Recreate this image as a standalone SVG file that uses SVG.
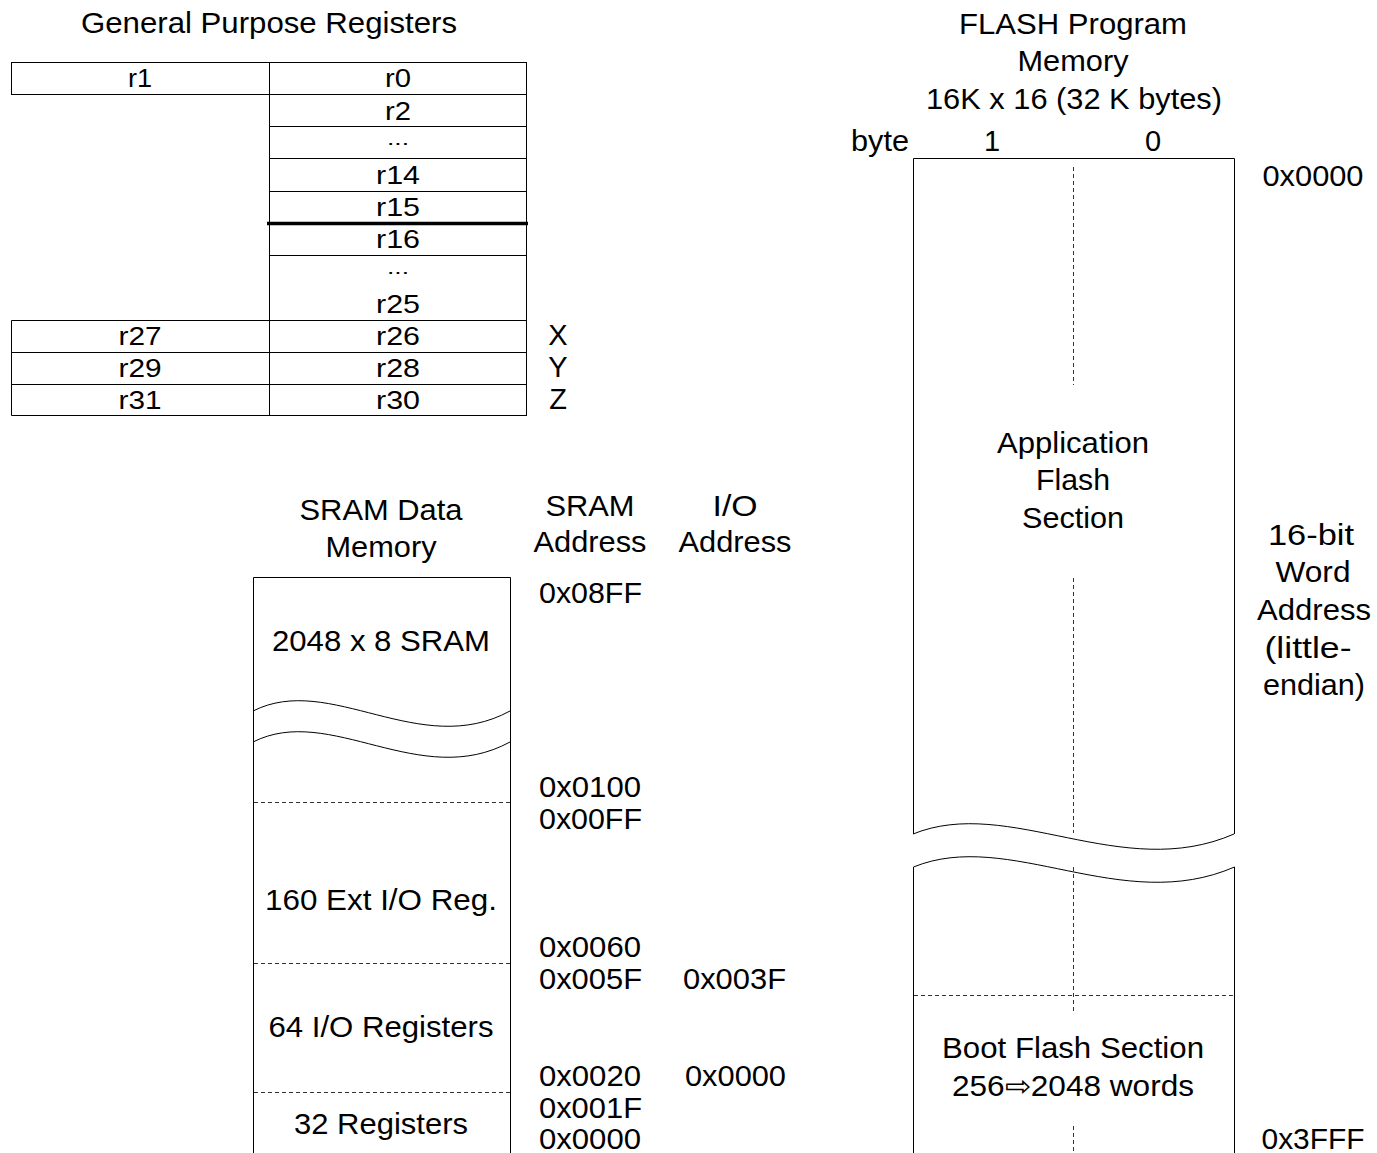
<svg xmlns="http://www.w3.org/2000/svg" width="1377" height="1153" viewBox="0 0 1377 1153">
<style>
text{font-family:"Liberation Sans",Arial,sans-serif;font-size:29px;fill:#000}
.c{text-anchor:middle}
.r{font-size:26px;text-anchor:middle}
.d{font-size:19px;text-anchor:middle}
.box{fill:none;stroke:#000;stroke-width:1}
.ln{stroke:#000;stroke-width:1;fill:none}
.dash{stroke:#333;stroke-width:1;stroke-dasharray:4,3;fill:none}
</style>
<rect width="1377" height="1153" fill="#fff"/>

<g id="registers">
  <text class="c" x="269" y="33" textLength="376" lengthAdjust="spacingAndGlyphs">General Purpose Registers</text>
  <rect class="box" x="11.5" y="62.5" width="258" height="32"/>
  <rect class="box" x="269.5" y="62.5" width="257" height="353"/>
  <path class="ln" d="M269.5,94.5H526.5M269.5,126.5H526.5M269.5,158.5H526.5M269.5,191.5H526.5M269.5,255.5H526.5M11.5,320.5H526.5M11.5,352.5H526.5M11.5,384.5H526.5M11.5,320.5V415.5H269.5"/>
  <line x1="267" y1="223.5" x2="528" y2="223.5" stroke="#000" stroke-width="3.5"/>
  <text class="r" x="140" y="87" textLength="24" lengthAdjust="spacingAndGlyphs">r1</text>
  <text class="r" x="398" y="87" textLength="26" lengthAdjust="spacingAndGlyphs">r0</text>
  <text class="r" x="398" y="120" textLength="26" lengthAdjust="spacingAndGlyphs">r2</text>
  <text class="d" x="398" y="145" textLength="22" lengthAdjust="spacingAndGlyphs">...</text>
  <text class="r" x="398" y="184" textLength="44" lengthAdjust="spacingAndGlyphs">r14</text>
  <text class="r" x="398" y="216" textLength="44" lengthAdjust="spacingAndGlyphs">r15</text>
  <text class="r" x="398" y="248" textLength="44" lengthAdjust="spacingAndGlyphs">r16</text>
  <text class="d" x="398" y="274" textLength="22" lengthAdjust="spacingAndGlyphs">...</text>
  <text class="r" x="398" y="313" textLength="44" lengthAdjust="spacingAndGlyphs">r25</text>
  <text class="r" x="140" y="345" textLength="43" lengthAdjust="spacingAndGlyphs">r27</text>
  <text class="r" x="398" y="345" textLength="44" lengthAdjust="spacingAndGlyphs">r26</text>
  <text class="r" x="140" y="377" textLength="43" lengthAdjust="spacingAndGlyphs">r29</text>
  <text class="r" x="398" y="377" textLength="44" lengthAdjust="spacingAndGlyphs">r28</text>
  <text class="r" x="140" y="409" textLength="43" lengthAdjust="spacingAndGlyphs">r31</text>
  <text class="r" x="398" y="409" textLength="44" lengthAdjust="spacingAndGlyphs">r30</text>
  <text class="c" x="558" y="345">X</text>
  <text class="c" x="558" y="377">Y</text>
  <text class="c" x="558" y="409">Z</text>
</g>

<g id="sram">
  <text class="c" x="381" y="520" textLength="163" lengthAdjust="spacingAndGlyphs">SRAM Data</text>
  <text class="c" x="381" y="557" textLength="111" lengthAdjust="spacingAndGlyphs">Memory</text>
  <text class="c" x="590" y="516" textLength="89" lengthAdjust="spacingAndGlyphs">SRAM</text>
  <text class="c" x="590" y="552" textLength="113" lengthAdjust="spacingAndGlyphs">Address</text>
  <text class="c" x="735" y="516" textLength="45" lengthAdjust="spacingAndGlyphs">I/O</text>
  <text class="c" x="735" y="552" textLength="113" lengthAdjust="spacingAndGlyphs">Address</text>
  <path class="ln" d="M253.5,1153V577.5H510.5V1153"/>
  <path class="ln" d="M253,711 C330,672 420,760 510,711"/>
  <path class="ln" d="M253,742 C330,703 420,791 510,742"/>
  <path class="dash" d="M254,802.5H510M254,963.5H510M254,1092.5H510"/>
  <text class="c" x="381" y="651" textLength="218" lengthAdjust="spacingAndGlyphs">2048 x 8 SRAM</text>
  <text class="c" x="381" y="910" textLength="232" lengthAdjust="spacingAndGlyphs">160 Ext I/O Reg.</text>
  <text class="c" x="381" y="1037" textLength="225" lengthAdjust="spacingAndGlyphs">64 I/O Registers</text>
  <text class="c" x="381" y="1134" textLength="174" lengthAdjust="spacingAndGlyphs">32 Registers</text>
  <text x="539" y="603" textLength="103" lengthAdjust="spacingAndGlyphs">0x08FF</text>
  <text x="539" y="797" textLength="102" lengthAdjust="spacingAndGlyphs">0x0100</text>
  <text x="539" y="829" textLength="103" lengthAdjust="spacingAndGlyphs">0x00FF</text>
  <text x="539" y="957" textLength="102" lengthAdjust="spacingAndGlyphs">0x0060</text>
  <text x="539" y="989" textLength="103" lengthAdjust="spacingAndGlyphs">0x005F</text>
  <text x="539" y="1086" textLength="102" lengthAdjust="spacingAndGlyphs">0x0020</text>
  <text x="539" y="1118" textLength="103" lengthAdjust="spacingAndGlyphs">0x001F</text>
  <text x="539" y="1149" textLength="102" lengthAdjust="spacingAndGlyphs">0x0000</text>
  <text x="683" y="989" textLength="103" lengthAdjust="spacingAndGlyphs">0x003F</text>
  <text x="685" y="1086" textLength="101" lengthAdjust="spacingAndGlyphs">0x0000</text>
</g>

<g id="flash">
  <text class="c" x="1073" y="34" textLength="228" lengthAdjust="spacingAndGlyphs">FLASH Program</text>
  <text class="c" x="1073" y="71" textLength="111" lengthAdjust="spacingAndGlyphs">Memory</text>
  <text class="c" x="1074" y="109" textLength="296" lengthAdjust="spacingAndGlyphs">16K x 16 (32 K bytes)</text>
  <text class="c" x="880" y="151" textLength="58" lengthAdjust="spacingAndGlyphs">byte</text>
  <text class="c" x="992" y="151">1</text>
  <text class="c" x="1153" y="151">0</text>
  <path class="ln" d="M913.5,834V158.5H1234.5V834"/>
  <path class="ln" d="M913,834 C1009,795 1122,883 1234,834"/>
  <path class="ln" d="M913.5,1153V867 C1009,828 1122,916 1234.5,867V1153"/>
  <path class="dash" d="M1073.5,167V385M1073.5,578V833M1073.5,867V1012M1073.5,1126V1153M914,995.5H1234"/>
  <text class="c" x="1073" y="453" textLength="152" lengthAdjust="spacingAndGlyphs">Application</text>
  <text class="c" x="1073" y="490" textLength="74" lengthAdjust="spacingAndGlyphs">Flash</text>
  <text class="c" x="1073" y="528" textLength="102" lengthAdjust="spacingAndGlyphs">Section</text>
  <text class="c" x="1073" y="1058" textLength="262" lengthAdjust="spacingAndGlyphs">Boot Flash Section</text>
  <text class="c" x="1073" y="1096" textLength="242" lengthAdjust="spacingAndGlyphs">256⇨2048 words</text>
  <text class="c" x="1313" y="186" textLength="101" lengthAdjust="spacingAndGlyphs">0x0000</text>
  <text class="c" x="1311" y="545" textLength="86" lengthAdjust="spacingAndGlyphs">16-bit</text>
  <text class="c" x="1313" y="582" textLength="75" lengthAdjust="spacingAndGlyphs">Word</text>
  <text class="c" x="1314" y="620" textLength="114" lengthAdjust="spacingAndGlyphs">Address</text>
  <text class="c" x="1308" y="658" textLength="87" lengthAdjust="spacingAndGlyphs">(little-</text>
  <text class="c" x="1314" y="695" textLength="102" lengthAdjust="spacingAndGlyphs">endian)</text>
  <text class="c" x="1313" y="1149" textLength="103" lengthAdjust="spacingAndGlyphs">0x3FFF</text>
</g>
</svg>
